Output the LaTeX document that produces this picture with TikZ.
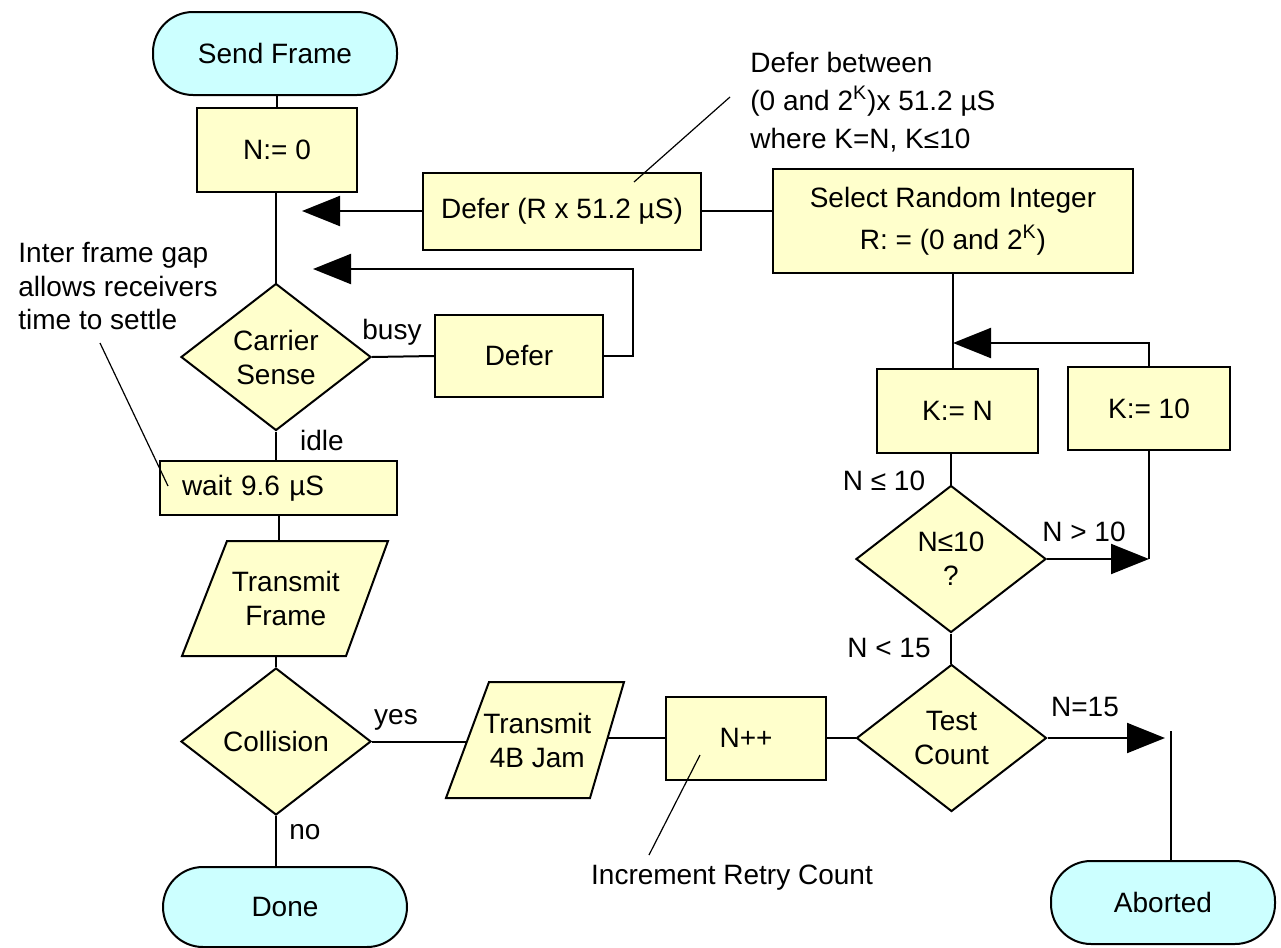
\documentclass[tikz,border=0pt]{standalone}
\usepackage{fontspec}
\setmainfont{Liberation Sans}
\usetikzlibrary{shapes.geometric,arrows.meta}
\definecolor{boxyellow}{HTML}{FFFFCC}
\definecolor{termcyan}{HTML}{CCFFFF}
\begin{document}
\begin{tikzpicture}[x=0.5pt,y=-0.5pt,
  every node/.style={font=\fontsize{14}{17}\selectfont},
  proc/.style={draw, line width=1pt, fill=boxyellow, rectangle, inner sep=0pt, align=center},
  term/.style={draw, line width=1pt, fill=termcyan, rectangle, rounded corners=20pt, inner sep=0pt},
  dec/.style={draw, line width=1pt, fill=boxyellow, diamond, aspect=1.3, inner sep=0pt, minimum width=95pt, minimum height=73.5pt, align=center},
  para/.style={draw=none, fill=none, rectangle, inner sep=0pt, align=center},
  parafill/.style={draw, line width=1pt, fill=boxyellow, line join=miter},
  conn/.style={line width=1pt},
  arr/.style={line width=1pt, -{Triangle[length=19pt,width=15pt]}},
  lead/.style={line width=0.6pt},
  lbl/.style={inner sep=0pt},
]
\useasboundingbox (0,0) rectangle (1281,948);

% parallelogram bodies
\draw[parafill] (227,541) -- (388,541) -- (346,656) -- (182,656) -- cycle;
\draw[parafill] (489,682) -- (624,682) -- (590,798) -- (446,798) -- cycle;

% nodes
\node[term, minimum width=122pt, minimum height=41.5pt] (send) at (275,53.5) {Send Frame};
\node[proc, minimum width=80pt, minimum height=42pt] (n0) at (277,150) {N:= 0};
\node[proc, minimum width=139pt, minimum height=38.5pt] (d1) at (562,211) {Defer (R x 51.2 µS)};
\node[proc, minimum width=180pt, minimum height=52pt, font=\fontsize{14}{21}\selectfont] (sel) at (953,221) {Select Random Integer\\R: = (0 and 2\textsuperscript{K})};
\node[dec] (cs) at (276,357) {Carrier\\Sense};
\node[proc, minimum width=84pt, minimum height=41pt] (d2) at (519,356) {Defer};
\node[proc, minimum width=118.5pt, minimum height=27pt, text width=96.5pt, inner xsep=11pt, align=left] (wait) at (278.5,488) {wait 9.6 µS};
\node[para, minimum width=81.25pt, minimum height=57.5pt] (tf) at (285.75,598.5) {Transmit\\Frame};
\node[dec] (coll) at (276,741.5) {Collision};
\node[term, minimum width=122pt, minimum height=40pt] (done) at (285,907) {Done};
\node[para, minimum width=69.75pt, minimum height=58pt] (jam) at (537.25,740) {Transmit\\4B Jam};
\node[proc, minimum width=80pt, minimum height=41.5pt] (npp) at (746,738) {N++};
\node[dec] (tc) at (951.5,738) {Test\\Count};
\node[dec] (q10) at (951,559) {N≤10\\?};
\node[proc, minimum width=80.5pt, minimum height=42pt] (kn) at (957.5,411) {K:= N};
\node[proc, minimum width=81pt, minimum height=41.5pt] (k10) at (1149,408.5) {K:= 10};
\node[term, minimum width=112pt, minimum height=41.5pt] (ab) at (1163,902.5) {Aborted};

% annotations
\node[lbl, anchor=west, align=left, font=\fontsize{14}{19}\selectfont] (note1) at (750,102) {Defer between\\(0 and 2\textsuperscript{K})x 51.2 µS\\where K=N, K≤10};
\node[lbl, anchor=west, align=left, font=\fontsize{14}{16.75}\selectfont] (note2) at (18,286) {Inter frame gap\\allows receivers\\time to settle};
\node[lbl] (note3) at (732,878) {Increment Retry Count};

% edge labels
\node[lbl] (lbusy) at (392,332) {busy};
\node[lbl] (lidle) at (322,440) {idle};
\node[lbl] (lyes) at (396,720) {yes};
\node[lbl] (lno) at (305,832) {no};
\node[lbl] (lle) at (884,481) {N ≤ 10};
\node[lbl] (lgt) at (1084,532) {N > 10};
\node[lbl] (llt) at (889,648) {N < 15};
\node[lbl] (leq) at (1085,707) {N=15};

% free ends
\coordinate (a1) at (302,211);
\coordinate (a2) at (313,269);
\coordinate (a3) at (953,343);
\coordinate (a5) at (1165,738);
\coordinate (a5top) at (1171,731);
\coordinate (l1a) at (730,97);
\coordinate (l1b) at (634,182);
\coordinate (l2a) at (100,343);
\coordinate (l2b) at (168,486);
\coordinate (l3a) at (649,855);
\coordinate (l3b) at (700,755);

% connectors
\draw[conn] (n0.north) -- (n0.north |- send.south);
\draw[conn] (cs.north) -- (cs.north |- n0.south);
\draw[conn] (cs.east) -- (d2.west);
\draw[conn] (cs.south) -- (cs.south |- wait.north);
\draw[conn] (wait.south) -- (wait.south |- tf.north);
\draw[conn] (coll.north) -- (coll.north |- tf.south);
\draw[conn] (coll.east) -- (coll.east -| jam.west);
\draw[conn] (npp.west) -- (npp.west -| jam.east);
\draw[conn] (tc.west) -- (npp.east);
\draw[conn] (coll.south) -- (coll.south |- done.north);
\draw[arr] (d1.west) -- (a1);
\draw[conn] (d1.east) -- (d1.east -| sel.west);
\draw[arr] (d2.east) -- ++(29,0) |- (a2);
\draw[conn] (sel.south) -- (sel.south |- kn.north);
\draw[arr] (k10.north) |- (a3);
\draw[conn] (q10.north) -- (q10.north |- kn.south);
\draw[arr] (q10.east) -- (q10.east -| k10.south);
\draw[conn] (k10.south) -- (q10.east -| k10.south);
\draw[conn] (q10.south) -- (q10.south |- tc.north);
\draw[arr] (tc.east) -- (a5);
\draw[conn] (a5top) -- (a5top |- ab.north);

% leaders
\draw[lead] (l1a) -- (l1b);
\draw[lead] (l2a) -- (l2b);
\draw[lead] (l3a) -- (l3b);
\end{tikzpicture}
\end{document}
